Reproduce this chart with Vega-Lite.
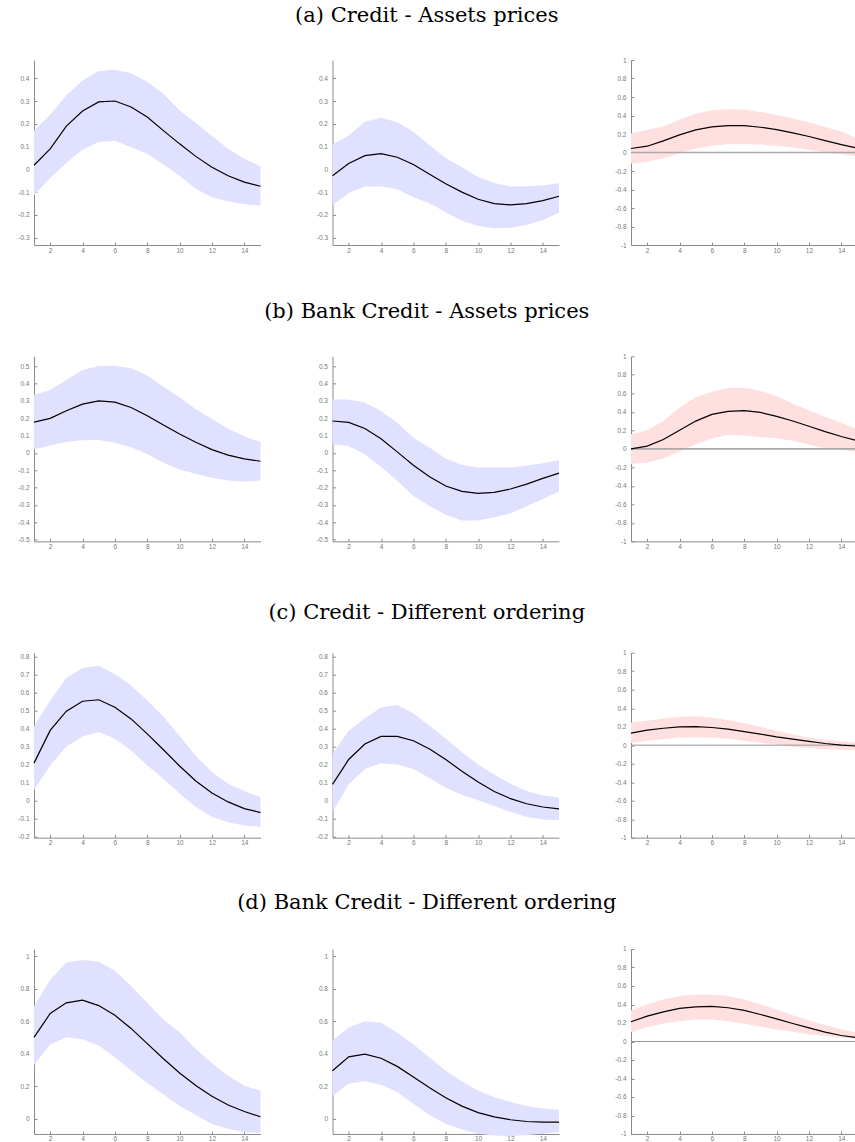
{
  "$schema": "https://vega.github.io/schema/vega-lite/v6.json",
  "background": "white",
  "padding": {"left": 17, "top": 5, "right": 0, "bottom": 0},
  "datasets": {
    "irf": [
      {"p":"a1","h":1,"m":0.018,"lo":-0.115,"hi":0.17},
      {"p":"a1","h":2,"m":0.09,"lo":-0.038,"hi":0.24},
      {"p":"a1","h":3,"m":0.19,"lo":0.028,"hi":0.325},
      {"p":"a1","h":4,"m":0.256,"lo":0.087,"hi":0.39},
      {"p":"a1","h":5,"m":0.296,"lo":0.12,"hi":0.432},
      {"p":"a1","h":6,"m":0.30,"lo":0.126,"hi":0.437},
      {"p":"a1","h":7,"m":0.274,"lo":0.097,"hi":0.422},
      {"p":"a1","h":8,"m":0.23,"lo":0.069,"hi":0.385},
      {"p":"a1","h":9,"m":0.17,"lo":0.021,"hi":0.332},
      {"p":"a1","h":10,"m":0.112,"lo":-0.028,"hi":0.259},
      {"p":"a1","h":11,"m":0.057,"lo":-0.085,"hi":0.204},
      {"p":"a1","h":12,"m":0.009,"lo":-0.122,"hi":0.146},
      {"p":"a1","h":13,"m":-0.028,"lo":-0.141,"hi":0.091},
      {"p":"a1","h":14,"m":-0.056,"lo":-0.153,"hi":0.047},
      {"p":"a1","h":15,"m":-0.074,"lo":-0.159,"hi":0.013},

      {"p":"a2","h":1,"m":-0.028,"lo":-0.159,"hi":0.109},
      {"p":"a2","h":2,"m":0.026,"lo":-0.104,"hi":0.149},
      {"p":"a2","h":3,"m":0.06,"lo":-0.075,"hi":0.209},
      {"p":"a2","h":4,"m":0.069,"lo":-0.075,"hi":0.226},
      {"p":"a2","h":5,"m":0.053,"lo":-0.087,"hi":0.207},
      {"p":"a2","h":6,"m":0.021,"lo":-0.122,"hi":0.165},
      {"p":"a2","h":7,"m":-0.021,"lo":-0.149,"hi":0.106},
      {"p":"a2","h":8,"m":-0.063,"lo":-0.188,"hi":0.05},
      {"p":"a2","h":9,"m":-0.1,"lo":-0.226,"hi":0.009},
      {"p":"a2","h":10,"m":-0.131,"lo":-0.249,"hi":-0.034},
      {"p":"a2","h":11,"m":-0.15,"lo":-0.259,"hi":-0.06},
      {"p":"a2","h":12,"m":-0.156,"lo":-0.256,"hi":-0.075},
      {"p":"a2","h":13,"m":-0.15,"lo":-0.244,"hi":-0.075},
      {"p":"a2","h":14,"m":-0.137,"lo":-0.222,"hi":-0.071},
      {"p":"a2","h":15,"m":-0.118,"lo":-0.19,"hi":-0.06},

      {"p":"a3","h":1,"m":0.043,"lo":-0.119,"hi":0.205},
      {"p":"a3","h":2,"m":0.068,"lo":-0.1,"hi":0.245},
      {"p":"a3","h":3,"m":0.126,"lo":-0.061,"hi":0.28},
      {"p":"a3","h":4,"m":0.19,"lo":-0.007,"hi":0.353},
      {"p":"a3","h":5,"m":0.245,"lo":0.043,"hi":0.42},
      {"p":"a3","h":6,"m":0.277,"lo":0.072,"hi":0.457},
      {"p":"a3","h":7,"m":0.291,"lo":0.09,"hi":0.468},
      {"p":"a3","h":8,"m":0.291,"lo":0.09,"hi":0.464},
      {"p":"a3","h":9,"m":0.273,"lo":0.086,"hi":0.439},
      {"p":"a3","h":10,"m":0.248,"lo":0.072,"hi":0.406},
      {"p":"a3","h":11,"m":0.212,"lo":0.054,"hi":0.367},
      {"p":"a3","h":12,"m":0.173,"lo":0.029,"hi":0.324},
      {"p":"a3","h":13,"m":0.129,"lo":0.004,"hi":0.277},
      {"p":"a3","h":14,"m":0.086,"lo":-0.018,"hi":0.227},
      {"p":"a3","h":15,"m":0.047,"lo":-0.043,"hi":0.155},

      {"p":"b1","h":1,"m":0.178,"lo":0.019,"hi":0.335},
      {"p":"b1","h":2,"m":0.199,"lo":0.042,"hi":0.363},
      {"p":"b1","h":3,"m":0.243,"lo":0.063,"hi":0.421},
      {"p":"b1","h":4,"m":0.281,"lo":0.073,"hi":0.478},
      {"p":"b1","h":5,"m":0.3,"lo":0.075,"hi":0.501},
      {"p":"b1","h":6,"m":0.293,"lo":0.059,"hi":0.503},
      {"p":"b1","h":7,"m":0.262,"lo":0.033,"hi":0.488},
      {"p":"b1","h":8,"m":0.214,"lo":-0.006,"hi":0.446},
      {"p":"b1","h":9,"m":0.161,"lo":-0.057,"hi":0.382},
      {"p":"b1","h":10,"m":0.109,"lo":-0.096,"hi":0.319},
      {"p":"b1","h":11,"m":0.061,"lo":-0.12,"hi":0.252},
      {"p":"b1","h":12,"m":0.019,"lo":-0.143,"hi":0.195},
      {"p":"b1","h":13,"m":-0.013,"lo":-0.159,"hi":0.14},
      {"p":"b1","h":14,"m":-0.034,"lo":-0.166,"hi":0.096},
      {"p":"b1","h":15,"m":-0.048,"lo":-0.159,"hi":0.063},

      {"p":"b2","h":1,"m":0.184,"lo":0.048,"hi":0.308},
      {"p":"b2","h":2,"m":0.176,"lo":0.04,"hi":0.308},
      {"p":"b2","h":3,"m":0.141,"lo":-0.008,"hi":0.291},
      {"p":"b2","h":4,"m":0.082,"lo":-0.08,"hi":0.241},
      {"p":"b2","h":5,"m":0.006,"lo":-0.161,"hi":0.174},
      {"p":"b2","h":6,"m":-0.071,"lo":-0.249,"hi":0.088},
      {"p":"b2","h":7,"m":-0.138,"lo":-0.306,"hi":0.031},
      {"p":"b2","h":8,"m":-0.191,"lo":-0.356,"hi":-0.033},
      {"p":"b2","h":9,"m":-0.222,"lo":-0.39,"hi":-0.069},
      {"p":"b2","h":10,"m":-0.233,"lo":-0.39,"hi":-0.084},
      {"p":"b2","h":11,"m":-0.228,"lo":-0.371,"hi":-0.084},
      {"p":"b2","h":12,"m":-0.208,"lo":-0.348,"hi":-0.084},
      {"p":"b2","h":13,"m":-0.18,"lo":-0.308,"hi":-0.073},
      {"p":"b2","h":14,"m":-0.147,"lo":-0.266,"hi":-0.059},
      {"p":"b2","h":15,"m":-0.117,"lo":-0.222,"hi":-0.042},

      {"p":"b3","h":1,"m":0.0,"lo":-0.165,"hi":0.158},
      {"p":"b3","h":2,"m":0.029,"lo":-0.151,"hi":0.2},
      {"p":"b3","h":3,"m":0.1,"lo":-0.104,"hi":0.3},
      {"p":"b3","h":4,"m":0.2,"lo":-0.029,"hi":0.444},
      {"p":"b3","h":5,"m":0.3,"lo":0.05,"hi":0.559},
      {"p":"b3","h":6,"m":0.373,"lo":0.111,"hi":0.616},
      {"p":"b3","h":7,"m":0.405,"lo":0.151,"hi":0.659},
      {"p":"b3","h":8,"m":0.412,"lo":0.143,"hi":0.659},
      {"p":"b3","h":9,"m":0.394,"lo":0.129,"hi":0.624},
      {"p":"b3","h":10,"m":0.351,"lo":0.115,"hi":0.57},
      {"p":"b3","h":11,"m":0.301,"lo":0.086,"hi":0.487},
      {"p":"b3","h":12,"m":0.244,"lo":0.043,"hi":0.416},
      {"p":"b3","h":13,"m":0.186,"lo":0.007,"hi":0.348},
      {"p":"b3","h":14,"m":0.133,"lo":-0.014,"hi":0.283},
      {"p":"b3","h":15,"m":0.086,"lo":-0.032,"hi":0.211},

      {"p":"c1","h":1,"m":0.208,"lo":0.057,"hi":0.411},
      {"p":"c1","h":2,"m":0.389,"lo":0.195,"hi":0.555},
      {"p":"c1","h":3,"m":0.496,"lo":0.3,"hi":0.68},
      {"p":"c1","h":4,"m":0.551,"lo":0.356,"hi":0.735},
      {"p":"c1","h":5,"m":0.559,"lo":0.38,"hi":0.748},
      {"p":"c1","h":6,"m":0.518,"lo":0.343,"hi":0.702},
      {"p":"c1","h":7,"m":0.453,"lo":0.278,"hi":0.638},
      {"p":"c1","h":8,"m":0.37,"lo":0.195,"hi":0.555},
      {"p":"c1","h":9,"m":0.282,"lo":0.122,"hi":0.466},
      {"p":"c1","h":10,"m":0.192,"lo":0.039,"hi":0.358},
      {"p":"c1","h":11,"m":0.109,"lo":-0.035,"hi":0.247},
      {"p":"c1","h":12,"m":0.042,"lo":-0.09,"hi":0.159},
      {"p":"c1","h":13,"m":-0.007,"lo":-0.12,"hi":0.094},
      {"p":"c1","h":14,"m":-0.044,"lo":-0.138,"hi":0.053},
      {"p":"c1","h":15,"m":-0.066,"lo":-0.145,"hi":0.02},

      {"p":"c2","h":1,"m":0.09,"lo":-0.062,"hi":0.259},
      {"p":"c2","h":2,"m":0.228,"lo":0.09,"hi":0.387},
      {"p":"c2","h":3,"m":0.314,"lo":0.176,"hi":0.457},
      {"p":"c2","h":4,"m":0.356,"lo":0.207,"hi":0.516},
      {"p":"c2","h":5,"m":0.356,"lo":0.2,"hi":0.53},
      {"p":"c2","h":6,"m":0.332,"lo":0.176,"hi":0.483},
      {"p":"c2","h":7,"m":0.286,"lo":0.125,"hi":0.415},
      {"p":"c2","h":8,"m":0.228,"lo":0.072,"hi":0.345},
      {"p":"c2","h":9,"m":0.163,"lo":0.033,"hi":0.268},
      {"p":"c2","h":10,"m":0.103,"lo":0.002,"hi":0.2},
      {"p":"c2","h":11,"m":0.051,"lo":-0.029,"hi":0.143},
      {"p":"c2","h":12,"m":0.011,"lo":-0.062,"hi":0.094},
      {"p":"c2","h":13,"m":-0.017,"lo":-0.09,"hi":0.053},
      {"p":"c2","h":14,"m":-0.035,"lo":-0.105,"hi":0.029},
      {"p":"c2","h":15,"m":-0.046,"lo":-0.108,"hi":0.017},

      {"p":"c3","h":1,"m":0.13,"lo":0.022,"hi":0.245},
      {"p":"c3","h":2,"m":0.162,"lo":0.047,"hi":0.263},
      {"p":"c3","h":3,"m":0.183,"lo":0.065,"hi":0.288},
      {"p":"c3","h":4,"m":0.198,"lo":0.083,"hi":0.306},
      {"p":"c3","h":5,"m":0.201,"lo":0.086,"hi":0.313},
      {"p":"c3","h":6,"m":0.191,"lo":0.083,"hi":0.299},
      {"p":"c3","h":7,"m":0.173,"lo":0.068,"hi":0.273},
      {"p":"c3","h":8,"m":0.147,"lo":0.047,"hi":0.237},
      {"p":"c3","h":9,"m":0.119,"lo":0.025,"hi":0.198},
      {"p":"c3","h":10,"m":0.09,"lo":0.004,"hi":0.155},
      {"p":"c3","h":11,"m":0.065,"lo":-0.018,"hi":0.115},
      {"p":"c3","h":12,"m":0.04,"lo":-0.032,"hi":0.083},
      {"p":"c3","h":13,"m":0.018,"lo":-0.043,"hi":0.058},
      {"p":"c3","h":14,"m":0.0,"lo":-0.05,"hi":0.04},
      {"p":"c3","h":15,"m":-0.011,"lo":-0.054,"hi":0.029},

      {"p":"d1","h":1,"m":0.501,"lo":0.33,"hi":0.692},
      {"p":"d1","h":2,"m":0.648,"lo":0.457,"hi":0.857},
      {"p":"d1","h":3,"m":0.714,"lo":0.501,"hi":0.963},
      {"p":"d1","h":4,"m":0.73,"lo":0.49,"hi":0.978},
      {"p":"d1","h":5,"m":0.697,"lo":0.451,"hi":0.967},
      {"p":"d1","h":6,"m":0.637,"lo":0.378,"hi":0.912},
      {"p":"d1","h":7,"m":0.556,"lo":0.297,"hi":0.818},
      {"p":"d1","h":8,"m":0.462,"lo":0.22,"hi":0.714},
      {"p":"d1","h":9,"m":0.369,"lo":0.149,"hi":0.611},
      {"p":"d1","h":10,"m":0.281,"lo":0.077,"hi":0.532},
      {"p":"d1","h":11,"m":0.204,"lo":0.022,"hi":0.429},
      {"p":"d1","h":12,"m":0.138,"lo":-0.033,"hi":0.341},
      {"p":"d1","h":13,"m":0.084,"lo":-0.062,"hi":0.264},
      {"p":"d1","h":14,"m":0.044,"lo":-0.084,"hi":0.202},
      {"p":"d1","h":15,"m":0.011,"lo":-0.088,"hi":0.171},

      {"p":"d2","h":1,"m":0.295,"lo":0.14,"hi":0.481},
      {"p":"d2","h":2,"m":0.381,"lo":0.217,"hi":0.562},
      {"p":"d2","h":3,"m":0.398,"lo":0.23,"hi":0.6},
      {"p":"d2","h":4,"m":0.372,"lo":0.208,"hi":0.591},
      {"p":"d2","h":5,"m":0.322,"lo":0.164,"hi":0.53},
      {"p":"d2","h":6,"m":0.256,"lo":0.092,"hi":0.457},
      {"p":"d2","h":7,"m":0.19,"lo":0.022,"hi":0.376},
      {"p":"d2","h":8,"m":0.129,"lo":-0.033,"hi":0.295},
      {"p":"d2","h":9,"m":0.077,"lo":-0.068,"hi":0.228},
      {"p":"d2","h":10,"m":0.037,"lo":-0.094,"hi":0.173},
      {"p":"d2","h":11,"m":0.011,"lo":-0.105,"hi":0.131},
      {"p":"d2","h":12,"m":-0.007,"lo":-0.109,"hi":0.103},
      {"p":"d2","h":13,"m":-0.018,"lo":-0.101,"hi":0.077},
      {"p":"d2","h":14,"m":-0.022,"lo":-0.094,"hi":0.063},
      {"p":"d2","h":15,"m":-0.022,"lo":-0.083,"hi":0.053},

      {"p":"d3","h":1,"m":0.213,"lo":0.101,"hi":0.336},
      {"p":"d3","h":2,"m":0.274,"lo":0.155,"hi":0.401},
      {"p":"d3","h":3,"m":0.321,"lo":0.195,"hi":0.455},
      {"p":"d3","h":4,"m":0.357,"lo":0.22,"hi":0.491},
      {"p":"d3","h":5,"m":0.375,"lo":0.238,"hi":0.509},
      {"p":"d3","h":6,"m":0.379,"lo":0.238,"hi":0.509},
      {"p":"d3","h":7,"m":0.365,"lo":0.22,"hi":0.491},
      {"p":"d3","h":8,"m":0.336,"lo":0.191,"hi":0.455},
      {"p":"d3","h":9,"m":0.292,"lo":0.159,"hi":0.401},
      {"p":"d3","h":10,"m":0.245,"lo":0.13,"hi":0.347},
      {"p":"d3","h":11,"m":0.195,"lo":0.105,"hi":0.285},
      {"p":"d3","h":12,"m":0.148,"lo":0.076,"hi":0.227},
      {"p":"d3","h":13,"m":0.101,"lo":0.058,"hi":0.177},
      {"p":"d3","h":14,"m":0.065,"lo":0.04,"hi":0.13},
      {"p":"d3","h":15,"m":0.04,"lo":0.032,"hi":0.094}
    ]
  },
  "data": {"name": "irf"},
  "bounds": "flush",
  "columns": 3,
  "spacing": {"row": 111.33, "column": 71.5},
  "concat": [
    {"transform":[{"filter":"datum.p==='a1'"}],"width":226.5,"height":185,
     "encoding":{"x":{"field":"h","type":"quantitative","scale":{"domain":[1,15],"nice":false},"axis":{"values":[2,4,6,8,10,12,14],"labelOverlap":false,"labelSeparation":-300}},
                 "y":{"field":"lo","type":"quantitative","scale":{"domain":[-0.332,0.48],"nice":false,"zero":false},"axis":{"values":[-0.3,-0.2,-0.1,0,0.1,0.2,0.3,0.4],"labelOverlap":false,"labelSeparation":-300}}},
     "layer":[
      {"mark":{"type":"area","color":"#e0e0ff","opacity":1},"encoding":{"y2":{"field":"hi"}}},
      {"mark":{"type":"line","color":"black","strokeWidth":1.2},"encoding":{"y":{"field":"m","type":"quantitative"}}}
     ]},
    {"transform":[{"filter":"datum.p==='a2'"}],"width":226.5,"height":185,
     "title":{"text":"(a) Credit - Assets prices","offset":34},
     "encoding":{"x":{"field":"h","type":"quantitative","scale":{"domain":[1,15],"nice":false},"axis":{"values":[2,4,6,8,10,12,14],"labelOverlap":false,"labelSeparation":-300}},
                 "y":{"field":"lo","type":"quantitative","scale":{"domain":[-0.332,0.48],"nice":false,"zero":false},"axis":{"values":[-0.3,-0.2,-0.1,0,0.1,0.2,0.3,0.4],"labelOverlap":false,"labelSeparation":-300}}},
     "layer":[
      {"mark":{"type":"area","color":"#e0e0ff","opacity":1},"encoding":{"y2":{"field":"hi"}}},
      {"mark":{"type":"line","color":"black","strokeWidth":1.2},"encoding":{"y":{"field":"m","type":"quantitative"}}}
     ]},
    {"transform":[{"filter":"datum.p==='a3'"}],"width":226.5,"height":185,
     "encoding":{"x":{"field":"h","type":"quantitative","scale":{"domain":[1,15],"nice":false},"axis":{"values":[2,4,6,8,10,12,14],"labelOverlap":false,"labelSeparation":-300}},
                 "y":{"field":"lo","type":"quantitative","scale":{"domain":[-1,1],"nice":false,"zero":false},"axis":{"values":[-1,-0.8,-0.6,-0.4,-0.2,0,0.2,0.4,0.6,0.8,1],"labelOverlap":false,"labelSeparation":-300}}},
     "layer":[
      {"mark":{"type":"area","color":"#ffe0e0","opacity":1},"encoding":{"y2":{"field":"hi"}}},
      {"transform":[{"filter":"datum.h === 1"}],"mark":{"type":"rule","color":"#aaaaaa","strokeWidth":1.6},"encoding":{"x":{"datum":1},"x2":{"datum":15},"y":{"datum":0}}},
      {"mark":{"type":"line","color":"black","strokeWidth":1.2},"encoding":{"y":{"field":"m","type":"quantitative"}}}
     ]},

    {"transform":[{"filter":"datum.p==='b1'"}],"width":226.5,"height":185,
     "encoding":{"x":{"field":"h","type":"quantitative","scale":{"domain":[1,15],"nice":false},"axis":{"values":[2,4,6,8,10,12,14],"labelOverlap":false,"labelSeparation":-300}},
                 "y":{"field":"lo","type":"quantitative","scale":{"domain":[-0.51,0.557],"nice":false,"zero":false},"axis":{"values":[-0.5,-0.4,-0.3,-0.2,-0.1,0,0.1,0.2,0.3,0.4,0.5],"labelOverlap":false,"labelSeparation":-300}}},
     "layer":[
      {"mark":{"type":"area","color":"#e0e0ff","opacity":1},"encoding":{"y2":{"field":"hi"}}},
      {"mark":{"type":"line","color":"black","strokeWidth":1.2},"encoding":{"y":{"field":"m","type":"quantitative"}}}
     ]},
    {"transform":[{"filter":"datum.p==='b2'"}],"width":226.5,"height":185,
     "title":{"text":"(b) Bank Credit - Assets prices","offset":34},
     "encoding":{"x":{"field":"h","type":"quantitative","scale":{"domain":[1,15],"nice":false},"axis":{"values":[2,4,6,8,10,12,14],"labelOverlap":false,"labelSeparation":-300}},
                 "y":{"field":"lo","type":"quantitative","scale":{"domain":[-0.51,0.557],"nice":false,"zero":false},"axis":{"values":[-0.5,-0.4,-0.3,-0.2,-0.1,0,0.1,0.2,0.3,0.4,0.5],"labelOverlap":false,"labelSeparation":-300}}},
     "layer":[
      {"mark":{"type":"area","color":"#e0e0ff","opacity":1},"encoding":{"y2":{"field":"hi"}}},
      {"mark":{"type":"line","color":"black","strokeWidth":1.2},"encoding":{"y":{"field":"m","type":"quantitative"}}}
     ]},
    {"transform":[{"filter":"datum.p==='b3'"}],"width":226.5,"height":185,
     "encoding":{"x":{"field":"h","type":"quantitative","scale":{"domain":[1,15],"nice":false},"axis":{"values":[2,4,6,8,10,12,14],"labelOverlap":false,"labelSeparation":-300}},
                 "y":{"field":"lo","type":"quantitative","scale":{"domain":[-1,1],"nice":false,"zero":false},"axis":{"values":[-1,-0.8,-0.6,-0.4,-0.2,0,0.2,0.4,0.6,0.8,1],"labelOverlap":false,"labelSeparation":-300}}},
     "layer":[
      {"mark":{"type":"area","color":"#ffe0e0","opacity":1},"encoding":{"y2":{"field":"hi"}}},
      {"transform":[{"filter":"datum.h === 1"}],"mark":{"type":"rule","color":"#aaaaaa","strokeWidth":1.6},"encoding":{"x":{"datum":1},"x2":{"datum":15},"y":{"datum":0}}},
      {"mark":{"type":"line","color":"black","strokeWidth":1.2},"encoding":{"y":{"field":"m","type":"quantitative"}}}
     ]},

    {"transform":[{"filter":"datum.p==='c1'"}],"width":226.5,"height":185,
     "encoding":{"x":{"field":"h","type":"quantitative","scale":{"domain":[1,15],"nice":false},"axis":{"values":[2,4,6,8,10,12,14],"labelOverlap":false,"labelSeparation":-300}},
                 "y":{"field":"lo","type":"quantitative","scale":{"domain":[-0.205,0.82],"nice":false,"zero":false},"axis":{"values":[-0.2,-0.1,0,0.1,0.2,0.3,0.4,0.5,0.6,0.7,0.8],"labelOverlap":false,"labelSeparation":-300}}},
     "layer":[
      {"mark":{"type":"area","color":"#e0e0ff","opacity":1},"encoding":{"y2":{"field":"hi"}}},
      {"mark":{"type":"line","color":"black","strokeWidth":1.2},"encoding":{"y":{"field":"m","type":"quantitative"}}}
     ]},
    {"transform":[{"filter":"datum.p==='c2'"}],"width":226.5,"height":185,
     "title":{"text":"(c) Credit - Different ordering","offset":30},
     "encoding":{"x":{"field":"h","type":"quantitative","scale":{"domain":[1,15],"nice":false},"axis":{"values":[2,4,6,8,10,12,14],"labelOverlap":false,"labelSeparation":-300}},
                 "y":{"field":"lo","type":"quantitative","scale":{"domain":[-0.205,0.82],"nice":false,"zero":false},"axis":{"values":[-0.2,-0.1,0,0.1,0.2,0.3,0.4,0.5,0.6,0.7,0.8],"labelOverlap":false,"labelSeparation":-300}}},
     "layer":[
      {"mark":{"type":"area","color":"#e0e0ff","opacity":1},"encoding":{"y2":{"field":"hi"}}},
      {"mark":{"type":"line","color":"black","strokeWidth":1.2},"encoding":{"y":{"field":"m","type":"quantitative"}}}
     ]},
    {"transform":[{"filter":"datum.p==='c3'"}],"width":226.5,"height":185,
     "encoding":{"x":{"field":"h","type":"quantitative","scale":{"domain":[1,15],"nice":false},"axis":{"values":[2,4,6,8,10,12,14],"labelOverlap":false,"labelSeparation":-300}},
                 "y":{"field":"lo","type":"quantitative","scale":{"domain":[-1,1],"nice":false,"zero":false},"axis":{"values":[-1,-0.8,-0.6,-0.4,-0.2,0,0.2,0.4,0.6,0.8,1],"labelOverlap":false,"labelSeparation":-300}}},
     "layer":[
      {"mark":{"type":"area","color":"#ffe0e0","opacity":1},"encoding":{"y2":{"field":"hi"}}},
      {"transform":[{"filter":"datum.h === 1"}],"mark":{"type":"rule","color":"#999999","strokeWidth":1},"encoding":{"x":{"datum":1},"x2":{"datum":15},"y":{"datum":0}}},
      {"mark":{"type":"line","color":"black","strokeWidth":1.2},"encoding":{"y":{"field":"m","type":"quantitative"}}}
     ]},

    {"transform":[{"filter":"datum.p==='d1'"}],"width":226.5,"height":185,
     "encoding":{"x":{"field":"h","type":"quantitative","scale":{"domain":[1,15],"nice":false},"axis":{"values":[2,4,6,8,10,12,14],"labelOverlap":false,"labelSeparation":-300}},
                 "y":{"field":"lo","type":"quantitative","scale":{"domain":[-0.095,1.046],"nice":false,"zero":false},"axis":{"values":[0,0.2,0.4,0.6,0.8,1],"labelOverlap":false,"labelSeparation":-300}}},
     "layer":[
      {"mark":{"type":"area","color":"#e0e0ff","opacity":1},"encoding":{"y2":{"field":"hi"}}},
      {"mark":{"type":"line","color":"black","strokeWidth":1.2},"encoding":{"y":{"field":"m","type":"quantitative"}}}
     ]},
    {"transform":[{"filter":"datum.p==='d2'"}],"width":226.5,"height":185,
     "title":{"text":"(d) Bank Credit - Different ordering","offset":36},
     "encoding":{"x":{"field":"h","type":"quantitative","scale":{"domain":[1,15],"nice":false},"axis":{"values":[2,4,6,8,10,12,14],"labelOverlap":false,"labelSeparation":-300}},
                 "y":{"field":"lo","type":"quantitative","scale":{"domain":[-0.095,1.046],"nice":false,"zero":false},"axis":{"values":[0,0.2,0.4,0.6,0.8,1],"labelOverlap":false,"labelSeparation":-300}}},
     "layer":[
      {"mark":{"type":"area","color":"#e0e0ff","opacity":1},"encoding":{"y2":{"field":"hi"}}},
      {"mark":{"type":"line","color":"black","strokeWidth":1.2},"encoding":{"y":{"field":"m","type":"quantitative"}}}
     ]},
    {"transform":[{"filter":"datum.p==='d3'"}],"width":226.5,"height":185,
     "encoding":{"x":{"field":"h","type":"quantitative","scale":{"domain":[1,15],"nice":false},"axis":{"values":[2,4,6,8,10,12,14],"labelOverlap":false,"labelSeparation":-300}},
                 "y":{"field":"lo","type":"quantitative","scale":{"domain":[-1,1],"nice":false,"zero":false},"axis":{"values":[-1,-0.8,-0.6,-0.4,-0.2,0,0.2,0.4,0.6,0.8,1],"labelOverlap":false,"labelSeparation":-300}}},
     "layer":[
      {"mark":{"type":"area","color":"#ffe0e0","opacity":1},"encoding":{"y2":{"field":"hi"}}},
      {"transform":[{"filter":"datum.h === 1"}],"mark":{"type":"rule","color":"#999999","strokeWidth":1},"encoding":{"x":{"datum":1},"x2":{"datum":15},"y":{"datum":0}}},
      {"mark":{"type":"line","color":"black","strokeWidth":1.2},"encoding":{"y":{"field":"m","type":"quantitative"}}}
     ]}
  ],
  "config": {
    "view": {"stroke": null},
    "axis": {"grid": false, "title": null, "domainColor": "#8a8a8a", "domainWidth": 1, "tickColor": "#8a8a8a", "tickSize": -3, "labelColor": "#777777", "labelFont": "Liberation Sans", "labelFontSize": 6.5, "labelOverlap": false, "labelSeparation": -300, "labelFlush": false, "labelExpr": "'' + datum.value"},
    "axisX": {"labelPadding": 5},
    "axisY": {"labelPadding": 8},
    "title": {"font": "DejaVu Serif", "fontSize": 21, "fontWeight": "normal", "color": "black", "anchor": "middle", "frame": "group", "baseline": "alphabetic", "dx": -19}
  }
}
